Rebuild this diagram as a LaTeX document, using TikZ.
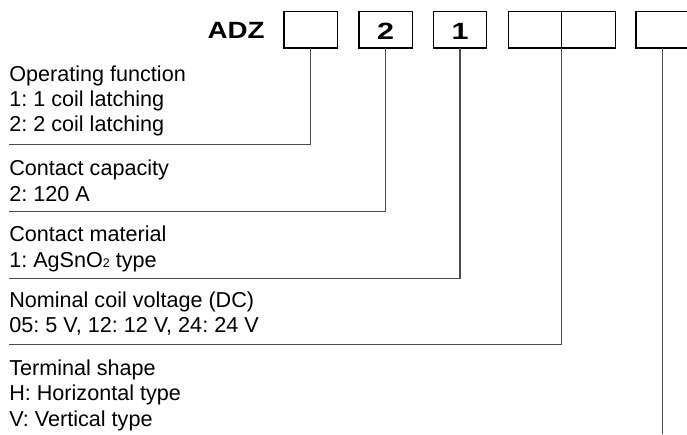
\documentclass[tikz,border=0pt]{standalone}
\usepackage{fontspec}
\setmainfont{Liberation Sans}
\frenchspacing
\begin{document}
\begin{tikzpicture}[x=1pt,y=1pt,
  digitbox/.style={draw=black,line width=1.3pt,minimum width=53.5pt,minimum height=36.7pt,inner sep=0pt,outer sep=0pt,anchor=north west},
  conn/.style={draw=black!70,line width=1.3pt},
  desc/.style={inner sep=0pt,outer sep=0pt,anchor=base west,font=\fontsize{21.6}{25}\selectfont},
  bigtxt/.style={inner sep=0pt,outer sep=0pt,font=\fontsize{23.5}{23.5}\selectfont\bfseries}
]
\frenchspacing
\useasboundingbox (0,0) rectangle (687,-434);
% boxes
\node[digitbox] (b1) at (284,-11.3) {};
\node[digitbox] (b2) at (359,-11.3) {};
\node[digitbox] (b3) at (433.3,-11.3) {};
\node[digitbox] (b4a) at (508.3,-11.3) {};
\node[digitbox] (b4b) at (561.7,-11.3) {};
\node[digitbox] (b5) at (636,-11.3) {};
% texts in header
\node[bigtxt,anchor=base east,xscale=1.18] (adz) at (264.5,-38.3) {ADZ};
\node[bigtxt,anchor=base,xscale=1.3] (d2) at (385.7,-39.3) {2};
\node[bigtxt,anchor=base,xscale=1.3] (d1) at (460.2,-39.3) {1};
% line end coordinates
\coordinate (e1) at (9,-144.5);
\coordinate (e2) at (9,-211.5);
\coordinate (e3) at (9,-278.3);
\coordinate (e4) at (9,-344.3);
\coordinate (e5) at (662.75,-434);
% connectors
\draw[conn] (b1.south) |- (e1);
\draw[conn] (b2.south) |- (e2);
\draw[conn] (b3.south) |- (e3);
\draw[conn] (b4a.south east) |- (e4);
\draw[conn] (b5.south) -- (e5);
% descriptions
\node[desc] (t11) at (9.3,-81.7) {Operating function};
\node[desc] (t12) at (9.3,-106.5) {1: 1 coil latching};
\node[desc] (t13) at (9.3,-131.7) {2: 2 coil latching};
\node[desc] (t21) at (9.3,-175.7) {Contact capacity};
\node[desc] (t22) at (9.3,-201) {2: 120 A};
\node[desc] (t31) at (9.3,-241.7) {Contact material};
\node[desc] (t32) at (9.3,-267) {1: AgSnO{\fontsize{12.5}{12.5}\selectfont 2} type};
\node[desc] (t41) at (9.3,-307.3) {Nominal coil voltage (DC)};
\node[desc] (t42) at (9.3,-332.7) {05: 5 V, 12: 12 V, 24: 24 V};
\node[desc] (t51) at (9.3,-375) {Terminal shape};
\node[desc] (t52) at (9.3,-400.7) {H: Horizontal type};
\node[desc] (t53) at (9.3,-426) {V: Vertical type};
\end{tikzpicture}
\end{document}
